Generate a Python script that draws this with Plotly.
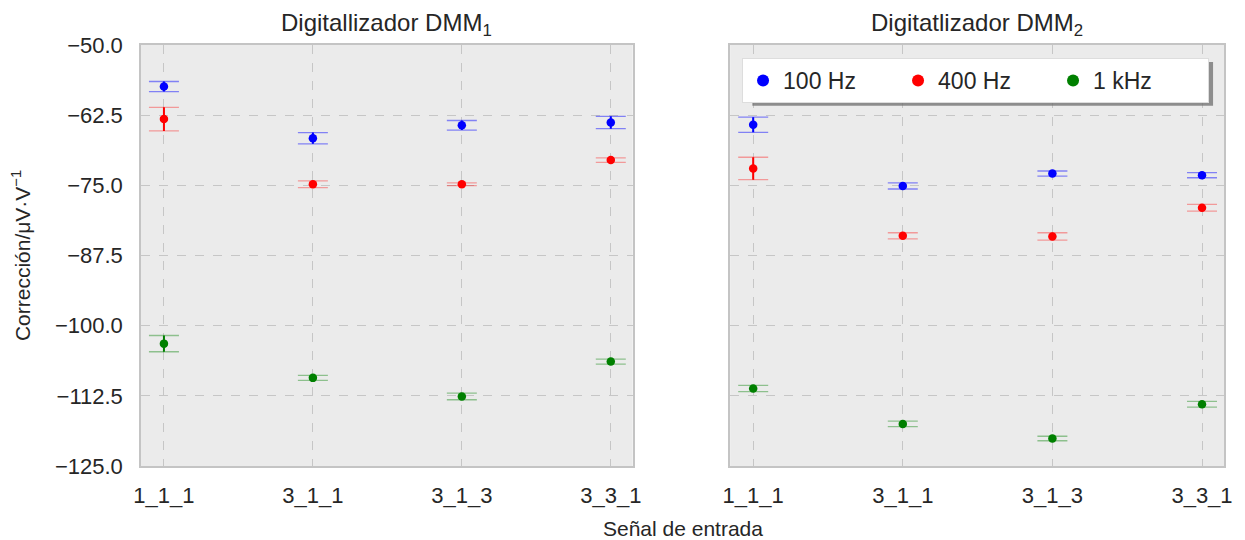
import plotly.graph_objects as go
from plotly.subplots import make_subplots

categories = ["1_1_1", "3_1_1", "3_1_3", "3_3_1"]
series_names = ["100 Hz", "400 Hz", "1 kHz"]

dmm1_100 = [-57.4, -66.6, -64.3, -63.8]
dmm1_100_err = [0.9, 1.0, 0.85, 1.1]
dmm1_400 = [-63.2, -74.8, -74.8, -70.5]
dmm1_400_err = [2.1, 0.6, 0.25, 0.4]
dmm1_1k = [-103.2, -109.3, -112.6, -106.4]
dmm1_1k_err = [1.45, 0.45, 0.6, 0.45]

dmm2_100 = [-64.2, -75.1, -72.9, -73.2]
dmm2_100_err = [1.35, 0.55, 0.45, 0.45]
dmm2_400 = [-72.0, -84.0, -84.1, -79.0]
dmm2_400_err = [2.0, 0.55, 0.65, 0.6]
dmm2_1k = [-111.2, -117.5, -120.1, -114.0]
dmm2_1k_err = [0.55, 0.5, 0.4, 0.5]

y_ticks = [-125.0, -112.5, -100.0, -87.5, -75.0, -62.5, -50.0]

colors = ["blue", "red", "green"]
light = ["rgba(0,0,255,0.45)", "rgba(255,0,0,0.35)", "rgba(0,128,0,0.4)"]
TXT = "#262626"
FONT = "Liberation Sans, Arial, DejaVu Sans, sans-serif"

panels = [
    ([dmm1_100, dmm1_400, dmm1_1k], [dmm1_100_err, dmm1_400_err, dmm1_1k_err]),
    ([dmm2_100, dmm2_400, dmm2_1k], [dmm2_100_err, dmm2_400_err, dmm2_1k_err]),
]

fig = make_subplots(rows=1, cols=2, shared_yaxes=True, horizontal_spacing=0.09,
                    subplot_titles=["Digitallizador DMM<sub>1</sub>",
                                    "Digitatlizador DMM<sub>2</sub>"])

for col, (vals, errs) in enumerate(panels, start=1):
    for i in range(3):
        fig.add_trace(go.Scatter(
            x=categories, y=vals[i], mode="markers",
            marker=dict(size=1, color="rgba(0,0,0,0)"),
            error_y=dict(type="data", array=errs[i], visible=True,
                         color=light[i], thickness=1.3, width=15),
            showlegend=False, hoverinfo="skip"), row=1, col=col)
        fig.add_trace(go.Scatter(
            x=categories, y=vals[i], mode="markers", name=series_names[i],
            marker=dict(size=8.5, color=colors[i]),
            error_y=dict(type="data", array=errs[i], visible=True,
                         color=colors[i], thickness=2, width=0),
            showlegend=(col == 2)), row=1, col=col)

axis_common = dict(showline=True, mirror=True, linecolor="#c4c4c4", linewidth=1.5,
                   showgrid=True, gridcolor="#c6c6c6", griddash="dash", gridwidth=1,
                   zeroline=False, ticks="",
                   tickfont=dict(size=22, color=TXT, family=FONT))

fig.update_xaxes(range=[-0.154, 3.147], ticklabelstandoff=9, **axis_common)
fig.update_yaxes(range=[-125, -50], tickvals=y_ticks, ticklabelstandoff=12,
                 ticktext=[f"\u2212{abs(v):.1f}" for v in y_ticks], **axis_common)
fig.update_xaxes(domain=[0, 0.454], row=1, col=1)
fig.update_xaxes(domain=[0.544, 1], row=1, col=2)
fig.update_yaxes(title=dict(text="Corrección/μV·V<sup>−1</sup>",
                            font=dict(size=21, color=TXT, family=FONT), standoff=19),
                 row=1, col=1)
fig.update_yaxes(showticklabels=False, row=1, col=2)

for ann in fig.layout.annotations:
    ann.font = dict(size=24, color=TXT, family=FONT)
    ann.yshift = 3

fig.layout.annotations[0].x = 0.454 / 2
fig.layout.annotations[1].x = (0.544 + 1) / 2

fig.add_annotation(text="Señal de entrada", xref="paper", yref="paper",
                   x=0.5, y=0, yshift=-62, yanchor="middle", showarrow=False,
                   font=dict(size=21, color=TXT, family=FONT), xanchor="center")

# legend shadow
fig.add_shape(type="rect", xref="paper", yref="paper",
              x0=0.5645, x1=0.9899, y0=0.8555, y1=0.9596,
              fillcolor="rgba(110,110,110,0.75)", line=dict(width=0), layer="above")

fig.update_layout(
    width=1237, height=532,
    margin=dict(l=133, r=18, t=37, b=74),
    paper_bgcolor="white", plot_bgcolor="#ebebeb",
    font=dict(family=FONT, color=TXT),
    legend=dict(orientation="h", x=0.9862, y=0.969, xanchor="right", yanchor="top",
                bgcolor="white", bordercolor="#dddddd", borderwidth=1,
                font=dict(size=23, color=TXT, family=FONT), entrywidth=110,
                itemsizing="constant"),
)

fig.write_html("out.html")
